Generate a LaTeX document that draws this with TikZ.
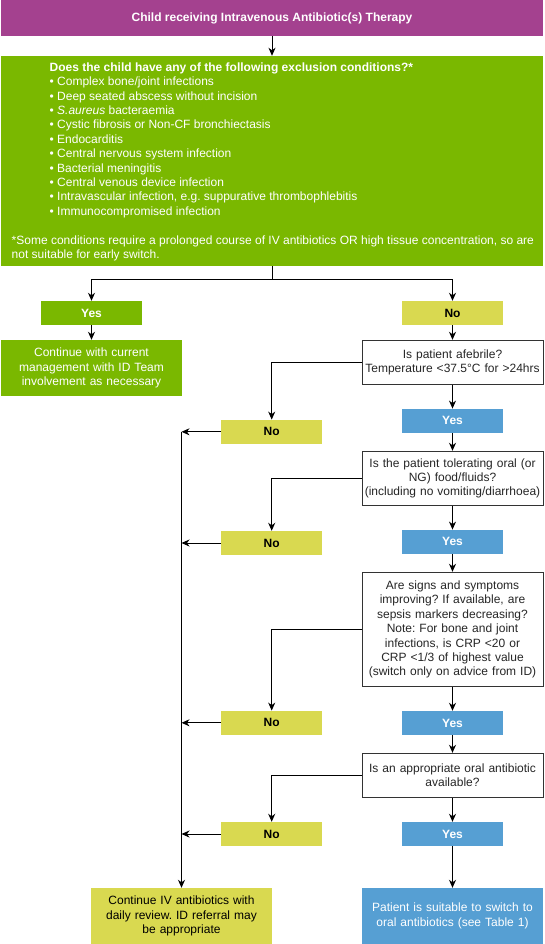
\documentclass[tikz,border=0pt]{standalone}
\usepackage{fontspec}
\setmainfont{Liberation Sans}
\usetikzlibrary{arrows.meta}

\definecolor{ivpurple}{HTML}{A4418F}
\definecolor{exclgreen}{HTML}{7AB800}
\definecolor{noyellow}{HTML}{D9D950}
\definecolor{yesblue}{HTML}{569FD3}
\definecolor{boxline}{HTML}{333333}

\frenchspacing

\begin{document}
\begin{tikzpicture}[
    x=1pt, y=-1pt,
    every node/.style={font=\fontsize{12}{14.4}\selectfont, inner sep=0pt},
    startbox/.style={fill=ivpurple, text=white, font=\fontsize{12}{14.4}\selectfont\bfseries, minimum width=542, minimum height=36},
    exclbox/.style={fill=exclgreen, minimum width=542, minimum height=210},
    listtext/.style={text=white, align=left, anchor=north west},
    yesgreen/.style={fill=exclgreen, text=white, font=\fontsize{12}{14.4}\selectfont\bfseries, minimum width=101, minimum height=24},
    nobox/.style={fill=noyellow, text=black, font=\fontsize{12}{14.4}\selectfont\bfseries, minimum width=101, minimum height=24},
    yesbox/.style={fill=yesblue, text=white, font=\fontsize{12}{14.4}\selectfont\bfseries, minimum width=101, minimum height=24},
    question/.style={draw=boxline, line width=1pt, fill=white, text=black!85, align=center, text width=181, minimum height=#1},
    outcome/.style={align=center, text width=181, minimum height=56},
    line/.style={line width=1pt, black},
    arrow/.style={-{Stealth[length=8pt, width=7pt, inset=2.5pt]}, line width=1pt, black}
]
    \useasboundingbox (0,0) rectangle (544,944);

    % --- Start and exclusion conditions ---
    \node[startbox] (start) at (272,18) {Child receiving Intravenous Antibiotic(s) Therapy};
    \node[exclbox] (excl) at (272,161) {};
    \node[listtext] (excllist) at (49.5,62.5) {\textbf{Does the child have any of the following exclusion conditions?*}\\
        • Complex bone/joint infections\\
        • Deep seated abscess without incision\\
        • \textit{S.aureus} bacteraemia\\
        • Cystic fibrosis or Non-CF bronchiectasis\\
        • Endocarditis\\
        • Central nervous system infection\\
        • Bacterial meningitis\\
        • Central venous device infection\\
        • Intravascular infection, e.g. suppurative thrombophlebitis\\
        • Immunocompromised infection};
    \node[listtext] (exclnote) at (11.5,235.5) {*Some conditions require a prolonged course of IV antibiotics OR high tissue concentration, so are\\
        not suitable for early switch.};

    % --- First answer ---
    \node[yesgreen] (yes0) at (91.5,313) {Yes};
    \node[nobox] (no0) at (452.5,313) {No};
    \node[outcome, fill=exclgreen, text=white] (cont) at (91.5,368) {Continue with current\\ management with ID Team\\ involvement as necessary};

    % --- Right column (questions and yes) ---
    \node[question=44] (afeb) at (452.5,362.3) {Is patient afebrile?\\ Temperature <37.5°C for >24hrs};
    \node[yesbox] (yes1) at (452.5,420.8) {Yes};
    \node[question=54] (tol) at (452.5,478.3) {Is the patient tolerating oral (or\\ NG) food/fluids?\\ (including no vomiting/diarrhoea)};
    \node[yesbox] (yes2) at (452.5,541.8) {Yes};
    \node[question=114.4] (signs) at (452.5,629.5) {Are signs and symptoms\\ improving? If available, are\\ sepsis markers decreasing?\\ Note: For bone and joint\\ infections, is CRP <20 or\\ CRP <1/3 of highest value\\ (switch only on advice from ID)};
    \node[yesbox] (yes3) at (452.5,723) {Yes};
    \node[question=44] (appr) at (452.5,775.3) {Is an appropriate oral antibiotic\\ available?};
    \node[yesbox] (yes4) at (452.5,834) {Yes};
    \node[outcome, fill=yesblue, text=white] (oral) at (452.5,916) {Patient is suitable to switch to\\ oral antibiotics (see Table 1)};

    % --- Middle column (no) ---
    \node[nobox] (no1) at (271.7,431.8) {No};
    \node[nobox] (no2) at (271.7,543) {No};
    \node[nobox] (no3) at (271.7,722.8) {No};
    \node[nobox] (no4) at (271.7,834) {No};
    \node[outcome, fill=noyellow, text=black] (contiv) at (181.5,916) {Continue IV antibiotics with\\ daily review. ID referral may\\ be appropriate};

    \coordinate (split) at (272,279);
    \coordinate (trunk) at (181.5,431.8);

    % --- Connectors ---
    \draw[arrow] (start) -- (excl);
    \draw[line] (excl) -- (split);
    \draw[arrow] (split) -| (yes0);
    \draw[arrow] (split) -| (no0);
    \draw[arrow] (yes0) -- (cont);
    \draw[arrow] (no0) -- (afeb);

    \draw[arrow] (afeb) -- (yes1);
    \draw[arrow] (yes1) -- (tol);
    \draw[arrow] (tol) -- (yes2);
    \draw[arrow] (yes2) -- (signs);
    \draw[arrow] (signs) -- (yes3);
    \draw[arrow] (yes3) -- (appr);
    \draw[arrow] (appr) -- (yes4);
    \draw[arrow] (yes4) -- (oral);

    \draw[arrow] (afeb) -| (no1);
    \draw[arrow] (tol) -| (no2);
    \draw[arrow] (signs) -| (no3);
    \draw[arrow] (appr) -| (no4);

    % all no answers join the trunk to continue IV
    \draw[arrow] (no1) -- (trunk);
    \draw[arrow] (no2) -- (no2 -| trunk);
    \draw[arrow] (no3) -- (no3 -| trunk);
    \draw[arrow] (no4) -- (no4 -| trunk);
    \draw[arrow] (trunk) -- (contiv);

\end{tikzpicture}
\end{document}
